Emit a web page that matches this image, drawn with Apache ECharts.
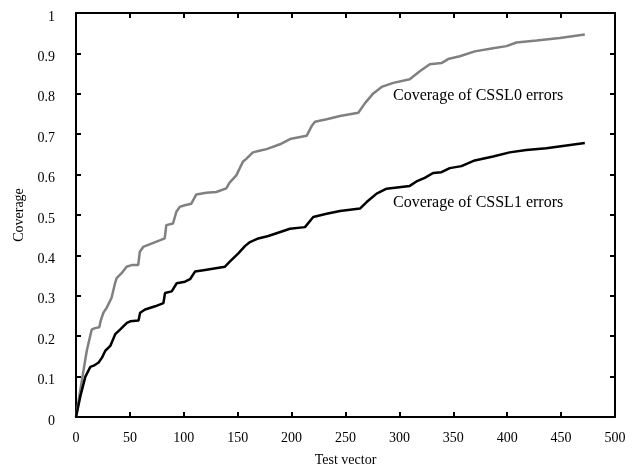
<!DOCTYPE html>
<html>
<head>
<meta charset="utf-8">
<script src="https://cdn.jsdelivr.net/npm/echarts@6/dist/echarts.min.js"></script>
<style>
  html, body { margin: 0; padding: 0; background: #fff; }
  #chart { width: 639px; height: 472px; }
</style>
</head>
<body>
<div id="chart"></div>
<script>
// coverage of CSSL0 errors (gray curve)
var cssl0X = [0, 6, 10, 14.5, 17.6, 21.6, 22.9, 25.4, 28.4, 33, 36.1, 37.7, 42.3, 46.9, 51.5, 57.7, 59.2, 62.3, 70, 77.7, 82.3, 83.8, 90, 93.1, 96.2, 100.8, 107, 111.6, 120.8, 130.1, 139.4, 142.5, 148.7, 154.8, 157.9, 164.1, 170.2, 176.8, 189.2, 198.5, 213.9, 218.6, 221.7, 232.5, 244.9, 261.9, 268.1, 275.8, 283.5, 294.3, 309.6, 318.9, 328.2, 339, 345.2, 356, 369.9, 386.9, 399.3, 408.6, 427.2, 448.8, 472];
var cssl0Y = [0, 0.1, 0.164, 0.216, 0.22, 0.222, 0.238, 0.258, 0.27, 0.295, 0.33, 0.344, 0.356, 0.372, 0.376, 0.376, 0.409, 0.421, 0.429, 0.437, 0.442, 0.475, 0.479, 0.508, 0.52, 0.524, 0.528, 0.551, 0.555, 0.557, 0.566, 0.58, 0.598, 0.632, 0.639, 0.655, 0.659, 0.663, 0.675, 0.688, 0.696, 0.72, 0.731, 0.737, 0.745, 0.753, 0.777, 0.801, 0.817, 0.827, 0.836, 0.856, 0.873, 0.876, 0.886, 0.893, 0.905, 0.913, 0.918, 0.927, 0.932, 0.938, 0.947];

// coverage of CSSL1 errors (black curve)
var cssl1X = [0, 4, 8.7, 13.3, 16.4, 21, 24.1, 27.2, 31.8, 36.4, 41.1, 47.2, 50.3, 58, 59.5, 64.1, 73.4, 81.1, 82.6, 88.8, 93.4, 95, 101.1, 105.8, 110.4, 119.7, 138.2, 142.9, 150.6, 156.7, 161.4, 169.1, 178.4, 198.5, 212.4, 220.1, 232.5, 244.9, 263.4, 269.6, 278.9, 288.1, 309.6, 315.8, 323.5, 331.3, 339, 346.7, 357.5, 369.9, 386.9, 402.3, 417.8, 436.3, 472];
var cssl1Y = [0, 0.051, 0.1, 0.124, 0.127, 0.135, 0.147, 0.164, 0.176, 0.205, 0.217, 0.233, 0.237, 0.239, 0.258, 0.266, 0.274, 0.282, 0.307, 0.311, 0.331, 0.335, 0.335, 0.341, 0.36, 0.364, 0.372, 0.385, 0.405, 0.423, 0.433, 0.442, 0.448, 0.466, 0.47, 0.495, 0.503, 0.51, 0.516, 0.532, 0.553, 0.565, 0.572, 0.583, 0.592, 0.604, 0.606, 0.616, 0.621, 0.635, 0.645, 0.655, 0.661, 0.665, 0.678];

var xTicks = { min: 0, max: 500, interval: 50 };
var yTicks = { min: 0, max: 1, interval: 0.1 };

function pairs(xs, ys) {
  return xs.map(function (x, i) { return [x, ys[i]]; });
}

var font = 'Liberation Serif, Times New Roman, serif';
var chart = echarts.init(document.getElementById('chart'), null, { renderer: 'canvas' });

var axisLine = { show: true, onZero: false, lineStyle: { color: '#000', width: 2 } };
var tickIn = { show: true, inside: true, length: 5, lineStyle: { color: '#000', width: 2 } };

var option = {
  animation: false,
  backgroundColor: '#fff',
  grid: { left: 76, right: 24, top: 13, bottom: 52 },
  xAxis: [{
    type: 'value',
    min: xTicks.min, max: xTicks.max, interval: xTicks.interval,
    name: 'Test vector', nameLocation: 'middle', nameGap: 36,
    nameTextStyle: { fontFamily: font, fontSize: 14, color: '#000' },
    axisLine: axisLine, axisTick: tickIn,
    axisLabel: { fontFamily: font, fontSize: 14, color: '#000', margin: 14 },
    splitLine: { show: false }
  }, {
    type: 'value', position: 'top',
    min: xTicks.min, max: xTicks.max, interval: xTicks.interval,
    axisLine: axisLine, axisTick: tickIn,
    axisLabel: { show: false }, splitLine: { show: false }
  }],
  yAxis: [{
    type: 'value',
    min: yTicks.min, max: yTicks.max, interval: yTicks.interval,
    name: 'Coverage', nameLocation: 'middle', nameGap: 49,
    nameTextStyle: { fontFamily: font, fontSize: 14, color: '#000' },
    axisLine: axisLine, axisTick: tickIn,
    axisLabel: { fontFamily: font, fontSize: 14, color: '#000', margin: 21, verticalAlign: 'top', lineHeight: 8 },
    splitLine: { show: false }
  }, {
    type: 'value', position: 'right',
    min: yTicks.min, max: yTicks.max, interval: yTicks.interval,
    axisLine: axisLine, axisTick: tickIn,
    axisLabel: { show: false }, splitLine: { show: false }
  }],
  series: [{
    name: 'Coverage of CSSL0 errors',
    type: 'line',
    data: pairs(cssl0X, cssl0Y),
    showSymbol: false,
    lineStyle: { color: '#808080', width: 2.5 },
    z: 3
  }, {
    name: 'Coverage of CSSL1 errors',
    type: 'line',
    data: pairs(cssl1X, cssl1Y),
    showSymbol: false,
    lineStyle: { color: '#000', width: 2.5 },
    z: 4
  }],
  graphic: [{
    type: 'text', left: 393, top: 88,
    style: { text: 'Coverage of CSSL0 errors', font: '16px ' + font, fill: '#000' }
  }, {
    type: 'text', left: 393, top: 195,
    style: { text: 'Coverage of CSSL1 errors', font: '16px ' + font, fill: '#000' }
  }]
};

chart.setOption(option);
</script>
</body>
</html>
